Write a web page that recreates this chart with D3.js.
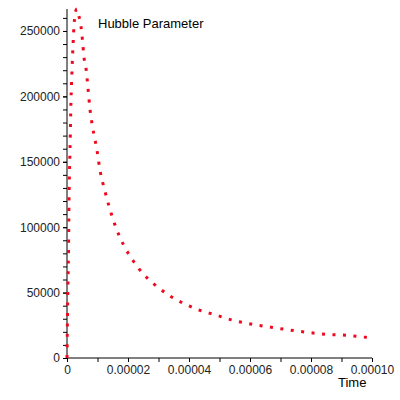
<!DOCTYPE html>
<html><head><meta charset="utf-8">
<script src="https://cdn.jsdelivr.net/npm/d3@7"></script>
<style>html,body{margin:0;padding:0;background:#fff;}svg{display:block;}</style>
</head><body>
<svg id="chart" width="400" height="400"></svg>
<script>
// time values (seconds) and Hubble parameter values
const time = [0, 0.23e-6, 0.49e-6, 0.66e-6, 0.98e-6, 1.31e-6, 1.64e-6, 1.97e-6, 2.30e-6, 2.62e-6, 3.0e-6, 3.25e-6,
  3.93e-6, 4.59e-6, 5.08e-6, 5.57e-6, 6.23e-6, 6.89e-6, 7.54e-6, 8.52e-6, 9.84e-6, 10.82e-6, 12.36e-6, 14.10e-6,
  16.07e-6, 18.46e-6, 21.54e-6, 25.15e-6, 28.95e-6, 33.21e-6, 38.13e-6, 43.38e-6, 48.85e-6, 54.20e-6, 60.23e-6,
  65.90e-6, 72.36e-6, 78.79e-6, 85.15e-6, 91.80e-6, 98.13e-6, 100e-6];
const hubble = [0, 44300, 82400, 120600, 158800, 197000, 219900, 238900, 254200, 262600, 266200, 266800,
  261100, 253400, 242800, 229800, 221400, 206100, 190100, 174800, 158800, 143500, 128300, 113500,
  99500, 86800, 74800, 63900, 55700, 48300, 41800, 36600, 32800, 29000, 26000,
  23900, 21600, 19600, 18100, 17300, 15800, 15500];
const xTickValues = [0, 0.00002, 0.00004, 0.00006, 0.00008, 0.0001];
const xTickLabels = ["0", "0.00002", "0.00004", "0.00006", "0.00008", "0.00010"];
const yTickValues = [0, 50000, 100000, 150000, 200000, 250000];
const yTickLabels = ["0", "50000", "100000", "150000", "200000", "250000"];
const title = "Hubble Parameter";
const xTitle = "Time";

const svg = d3.select("#chart");
const x = d3.scaleLinear().domain([0, 0.0001]).range([67, 372]);
const y = d3.scaleLinear().domain([0, 266800]).range([358, 9]);
const font = "'Liberation Sans', Arial, sans-serif";

// minor ticks
const xAxisMinor = d3.axisBottom(x).tickValues(d3.range(0, 11).map(i => i * 1e-5)).tickSize(4).tickFormat("");
const yAxisMinor = d3.axisLeft(y).tickValues(d3.range(0, 27).map(i => i * 10000)).tickSize(4).tickFormat("");

const gx = svg.append("g").attr("transform", `translate(0,${y(0)})`).call(xAxisMinor);
gx.select(".domain").attr("d", `M${x(0)},0H${x(0.0001)}`);
const gy = svg.append("g").attr("transform", `translate(${x(0)},0)`).call(yAxisMinor);
gy.select(".domain").attr("d", `M0,${y(0)}V${y(266800)}`);

const gxl = svg.append("g").attr("transform", `translate(0,${y(0)})`)
  .call(d3.axisBottom(x).tickValues(xTickValues).tickSize(4).tickPadding(3).tickFormat((d, i) => xTickLabels[i]));
gxl.select(".domain").remove();
const gyl = svg.append("g").attr("transform", `translate(${x(0)},0)`)
  .call(d3.axisLeft(y).tickValues(yTickValues).tickSize(4).tickPadding(3).tickFormat((d, i) => yTickLabels[i]));
gyl.select(".domain").remove();

svg.selectAll(".tick line, .domain").attr("stroke", "#000").attr("stroke-width", 1);
svg.selectAll(".tick text").attr("font-family", font).attr("font-size", 12).attr("fill", "#222");

// curve
const pts = time.map((t, i) => [t, hubble[i]]);
const line = d3.line().x(d => x(d[0])).y(d => y(d[1])).curve(d3.curveMonotoneX);
svg.append("path").datum(pts).attr("d", line)
  .attr("fill", "none").attr("stroke", "#ee0a1e").attr("stroke-width", 3)
  .attr("stroke-dasharray", "3 7.5");

svg.append("text").attr("x", 98).attr("y", 28).attr("font-family", font).attr("font-size", 13)
  .attr("fill", "#000").text(title);
svg.append("text").attr("x", 338).attr("y", 387).attr("font-family", font).attr("font-size", 13)
  .attr("fill", "#000").text(xTitle);
</script>
</body></html>
